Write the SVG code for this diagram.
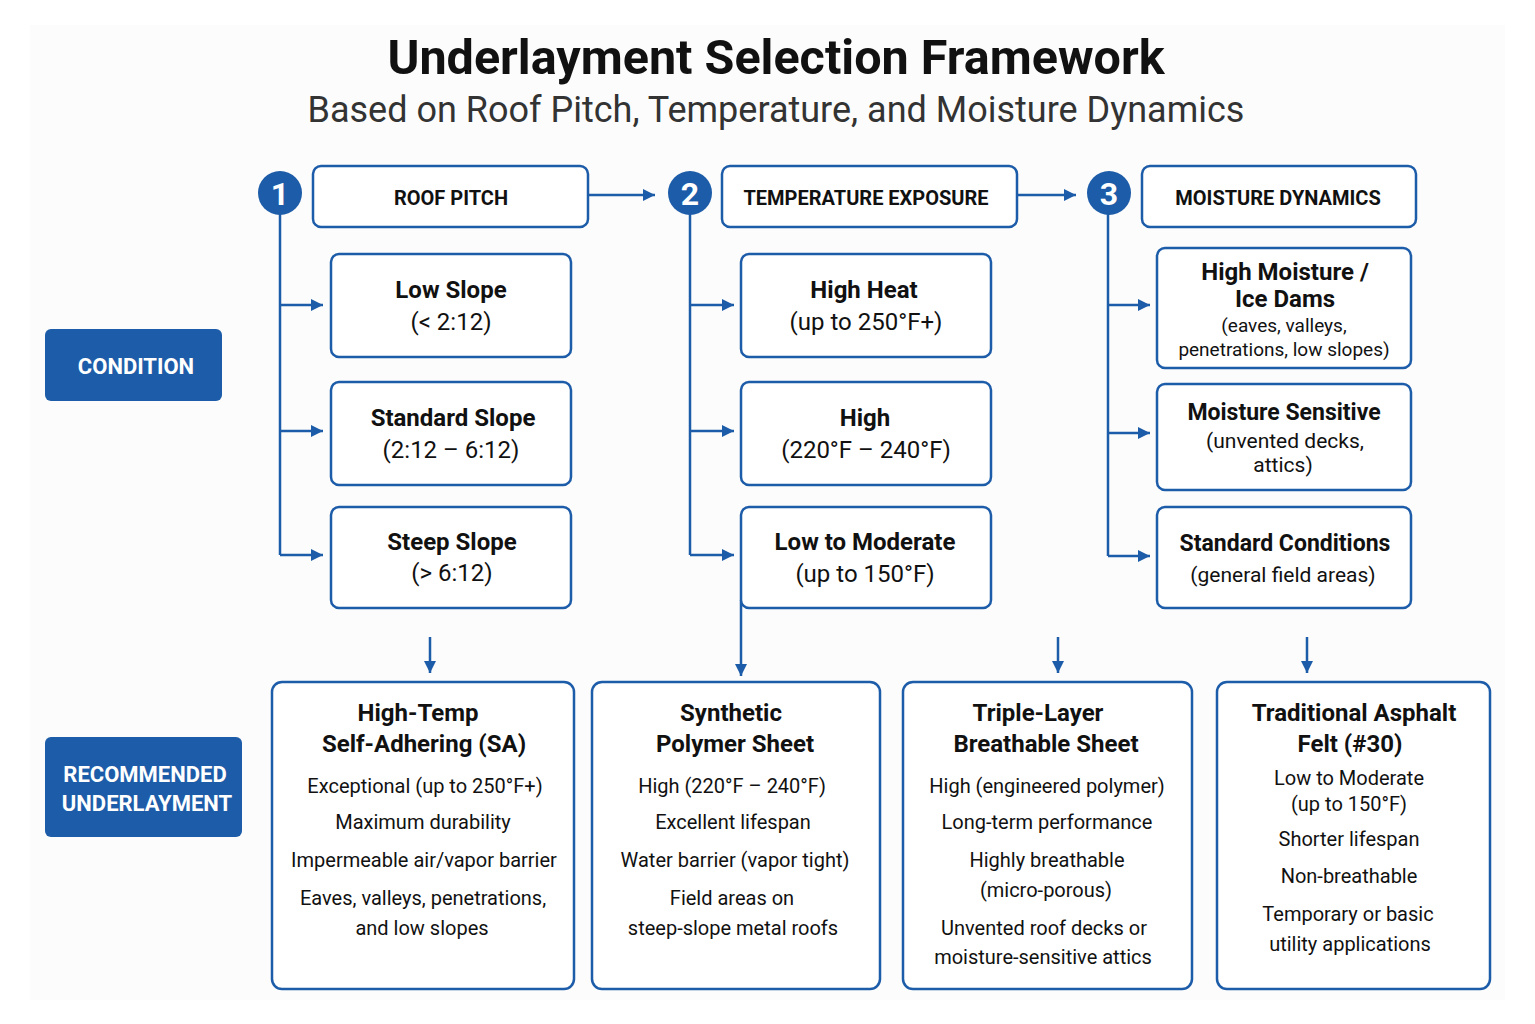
<svg xmlns="http://www.w3.org/2000/svg" width="1535" height="1024" viewBox="0 0 1535 1024">
<defs>
<marker id="ah" viewBox="0 0 10 10" refX="10" refY="5" markerWidth="12" markerHeight="14" markerUnits="userSpaceOnUse" orient="auto">
<path d="M0,0 L10,5 L0,10 z" fill="#1d5ca8"/>
</marker>
<style>
.t{font-family:Roboto,"Liberation Sans",sans-serif;fill:#111;text-anchor:middle}
.b{font-weight:700}
.box{fill:#fff;stroke:#1d5ca8;stroke-width:2.5}
.lab{fill:#1d5ca8}
.w{fill:#fff;font-family:Roboto,"Liberation Sans",sans-serif;font-weight:700;text-anchor:middle}
.c{fill:none;stroke:#1d5ca8;stroke-width:2.5}
.h{font-size:20px;font-weight:700}
.ct{font-size:24px}
.bt{font-size:24px;font-weight:700}
.bd{font-size:20px}
</style>
</defs>
<rect width="1535" height="1024" fill="#fff"/>
<rect x="30" y="25" width="1475" height="975" fill="#fcfcfc"/>
<g id="title">
<text class="t b" x="776" y="74" font-size="48.5">Underlayment Selection Framework</text>
<text class="t" x="776" y="122" font-size="36" style="fill:#333">Based on Roof Pitch, Temperature, and Moisture Dynamics</text>
</g>
<g id="label-condition">
<rect class="lab" x="45" y="329" width="177" height="72" rx="6"/>
<text class="w" x="136" y="374" font-size="22">CONDITION</text>
</g>
<g id="label-recommended">
<rect class="lab" x="45" y="737" width="197" height="100" rx="6"/>
<text class="w" x="145" y="782" font-size="22">RECOMMENDED</text>
<text class="w" x="147" y="811" font-size="22">UNDERLAYMENT</text>
</g>
<g id="connectors">
<path class="c" d="M588,195 H655" marker-end="url(#ah)"/>
<path class="c" d="M1017,195 H1076" marker-end="url(#ah)"/>
<path class="c" d="M280,210 V555"/>
<path class="c" d="M280,305 H323" marker-end="url(#ah)"/>
<path class="c" d="M280,431 H323" marker-end="url(#ah)"/>
<path class="c" d="M280,555 H323" marker-end="url(#ah)"/>
<path class="c" d="M690,210 V555"/>
<path class="c" d="M690,305 H734" marker-end="url(#ah)"/>
<path class="c" d="M690,431 H734" marker-end="url(#ah)"/>
<path class="c" d="M690,555 H734" marker-end="url(#ah)"/>
<path class="c" d="M1108,210 V556"/>
<path class="c" d="M1108,305 H1150" marker-end="url(#ah)"/>
<path class="c" d="M1108,433 H1150" marker-end="url(#ah)"/>
<path class="c" d="M1108,556 H1150" marker-end="url(#ah)"/>
<path class="c" d="M430,637 V673" marker-end="url(#ah)"/>
<path class="c" d="M741,600 V676" marker-end="url(#ah)"/>
<path class="c" d="M1058,637 V673" marker-end="url(#ah)"/>
<path class="c" d="M1307,637 V673" marker-end="url(#ah)"/>
</g>
<g id="step1">
<circle cx="280" cy="193" r="22" fill="#1d5ca8"/>
<text class="w" x="280" y="205" font-size="32">1</text>
<rect class="box" x="313" y="166" width="275" height="61" rx="8"/>
<text class="t h" x="451" y="205">ROOF PITCH</text>
</g>
<g id="step2">
<circle cx="690" cy="193" r="22" fill="#1d5ca8"/>
<text class="w" x="690" y="205" font-size="32">2</text>
<rect class="box" x="722" y="166" width="295" height="61" rx="8"/>
<text class="t h" x="866" y="205">TEMPERATURE EXPOSURE</text>
</g>
<g id="step3">
<circle cx="1109" cy="193" r="22" fill="#1d5ca8"/>
<text class="w" x="1109" y="205" font-size="32">3</text>
<rect class="box" x="1142" y="166" width="274" height="61" rx="8"/>
<text class="t h" x="1278" y="205">MOISTURE DYNAMICS</text>
</g>
<g id="low-slope">
<rect class="box" x="331" y="254" width="240" height="103" rx="8"/>
<text class="t bt" x="451" y="298">Low Slope</text>
<text class="t ct" x="451" y="330">(&lt; 2:12)</text>
</g>
<g id="standard-slope">
<rect class="box" x="331" y="382" width="240" height="103" rx="8"/>
<text class="t bt" x="453" y="426">Standard Slope</text>
<text class="t ct" x="451" y="458">(2:12 – 6:12)</text>
</g>
<g id="steep-slope">
<rect class="box" x="331" y="507" width="240" height="101" rx="8"/>
<text class="t bt" x="452" y="550">Steep Slope</text>
<text class="t ct" x="452" y="581">(&gt; 6:12)</text>
</g>
<g id="high-heat">
<rect class="box" x="741" y="254" width="250" height="103" rx="8"/>
<text class="t bt" x="864" y="298">High Heat</text>
<text class="t ct" x="866" y="330">(up to 250°F+)</text>
</g>
<g id="high">
<rect class="box" x="741" y="382" width="250" height="103" rx="8"/>
<text class="t bt" x="865" y="426">High</text>
<text class="t ct" x="866" y="458">(220°F – 240°F)</text>
</g>
<g id="low-moderate">
<rect class="box" x="741" y="507" width="250" height="101" rx="8"/>
<text class="t bt" x="865" y="550">Low to Moderate</text>
<text class="t ct" x="865" y="582">(up to 150°F)</text>
</g>
<g id="high-moisture">
<rect class="box" x="1157" y="248" width="254" height="120" rx="8"/>
<text class="t bt" x="1285" y="280">High Moisture /</text>
<text class="t bt" x="1285" y="307">Ice Dams</text>
<text class="t" x="1284" y="332" font-size="19">(eaves, valleys,</text>
<text class="t" x="1284" y="356" font-size="19">penetrations, low slopes)</text>
</g>
<g id="moisture-sensitive">
<rect class="box" x="1157" y="384" width="254" height="106" rx="8"/>
<text class="t" x="1284" y="420" font-size="23" font-weight="700">Moisture Sensitive</text>
<text class="t" x="1285" y="448" font-size="21">(unvented decks,</text>
<text class="t" x="1283" y="472" font-size="21">attics)</text>
</g>
<g id="standard-conditions">
<rect class="box" x="1157" y="507" width="254" height="101" rx="8"/>
<text class="t" x="1285" y="551" font-size="23" font-weight="700">Standard Conditions</text>
<text class="t" x="1283" y="582" font-size="21">(general field areas)</text>
</g>
<g id="high-temp-sa">
<rect class="box" x="272" y="682" width="302" height="307" rx="10"/>
<text class="t bt" x="418" y="721">High-Temp</text>
<text class="t bt" x="424" y="752">Self-Adhering (SA)</text>
<text class="t bd" x="425" y="793">Exceptional (up to 250°F+)</text>
<text class="t bd" x="423" y="829">Maximum durability</text>
<text class="t bd" x="424" y="867">Impermeable air/vapor barrier</text>
<text class="t bd" x="423" y="905">Eaves, valleys, penetrations,</text>
<text class="t bd" x="422" y="935">and low slopes</text>
</g>
<g id="synthetic-polymer">
<rect class="box" x="592" y="682" width="288" height="307" rx="10"/>
<text class="t bt" x="731" y="721">Synthetic</text>
<text class="t bt" x="735" y="752">Polymer Sheet</text>
<text class="t bd" x="732" y="793">High (220°F – 240°F)</text>
<text class="t bd" x="733" y="829">Excellent lifespan</text>
<text class="t bd" x="735" y="867">Water barrier (vapor tight)</text>
<text class="t bd" x="732" y="905">Field areas on</text>
<text class="t bd" x="733" y="935">steep-slope metal roofs</text>
</g>
<g id="triple-layer">
<rect class="box" x="903" y="682" width="289" height="307" rx="10"/>
<text class="t bt" x="1038" y="721">Triple-Layer</text>
<text class="t bt" x="1046" y="752">Breathable Sheet</text>
<text class="t bd" x="1047" y="793">High (engineered polymer)</text>
<text class="t bd" x="1047" y="829">Long-term performance</text>
<text class="t bd" x="1047" y="867">Highly breathable</text>
<text class="t bd" x="1046" y="897">(micro-porous)</text>
<text class="t bd" x="1044" y="935">Unvented roof decks or</text>
<text class="t bd" x="1043" y="964">moisture-sensitive attics</text>
</g>
<g id="asphalt-felt">
<rect class="box" x="1217" y="682" width="273" height="307" rx="10"/>
<text class="t bt" x="1354" y="721">Traditional Asphalt</text>
<text class="t bt" x="1350" y="752">Felt (#30)</text>
<text class="t bd" x="1349" y="785">Low to Moderate</text>
<text class="t bd" x="1349" y="811">(up to 150°F)</text>
<text class="t bd" x="1349" y="846">Shorter lifespan</text>
<text class="t bd" x="1349" y="883">Non-breathable</text>
<text class="t bd" x="1348" y="921">Temporary or basic</text>
<text class="t bd" x="1350" y="951">utility applications</text>
</g>
</svg>
